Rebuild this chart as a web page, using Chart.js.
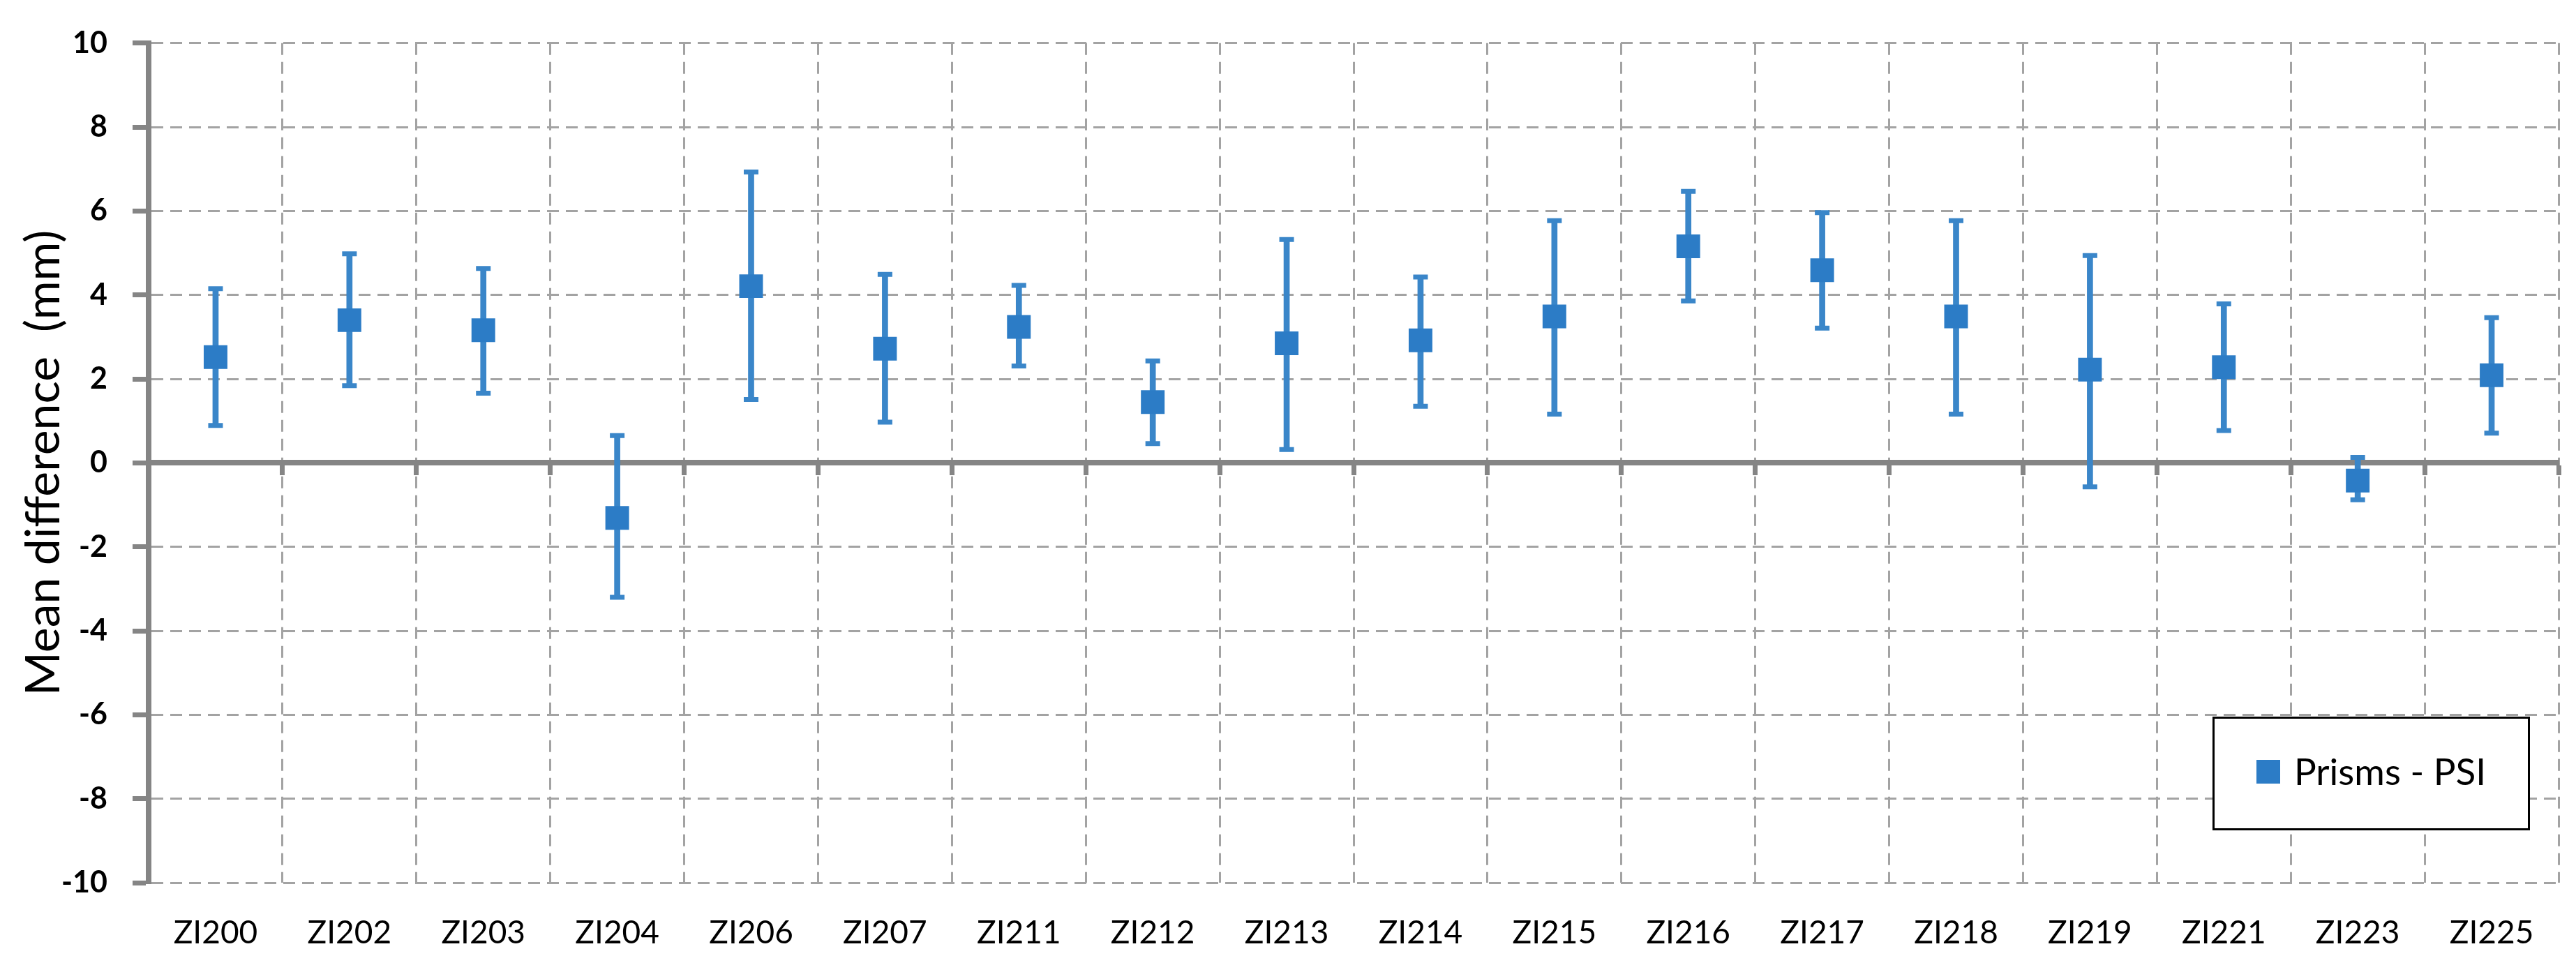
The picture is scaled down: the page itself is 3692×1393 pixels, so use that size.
<!DOCTYPE html>
<html>
<head>
<meta charset="utf-8">
<script src="https://cdn.jsdelivr.net/npm/chart.js@4.4.1/dist/chart.umd.min.js"></script>
<style>
  html, body { margin: 0; padding: 0; background: #ffffff; }
  #wrap { width: 3692px; height: 1393px; }
</style>
</head>
<body>
<div id="wrap"><canvas id="c" width="3692" height="1393"></canvas></div>
<script>
// ---- data ----
const categories = ['ZI200','ZI202','ZI203','ZI204','ZI206','ZI207','ZI211','ZI212','ZI213',
                    'ZI214','ZI215','ZI216','ZI217','ZI218','ZI219','ZI221','ZI223','ZI225'];
const meanValues = [2.52, 3.40, 3.16, -1.31, 4.21, 2.72, 3.24, 1.45, 2.85,
                    2.92, 3.49, 5.16, 4.59, 3.49, 2.22, 2.28, -0.42, 2.09];
const upperValues = [4.15, 4.98, 4.63, 0.65, 6.93, 4.49, 4.23, 2.43, 5.32,
                     4.43, 5.77, 6.47, 5.96, 5.77, 4.94, 3.79, 0.13, 3.46];
const lowerValues = [0.89, 1.84, 1.66, -3.20, 1.51, 0.97, 2.31, 0.46, 0.32,
                     1.35, 1.16, 3.86, 3.21, 1.16, -0.57, 0.77, -0.88, 0.71];
const yTickMin = -10;
const yTickMax = 10;
const yTickStep = 2;
const seriesLabel = 'Prisms - PSI';
const yTitle = 'Mean difference  (mm)';

// ---- styles ----
const markerColor = '#2C7CC6';
const barColor = '#3A86C9';
const gridColor = '#A3A3A3';
const axisColor = '#858585';
const dashPattern = [17, 10];

const legendBox = {
  id: 'legendBox',
  afterDraw(chart) {
    const ctx = chart.ctx;
    const label = chart.data.datasets[0].label;
    ctx.save();
    ctx.fillStyle = '#ffffff';
    ctx.fillRect(3172, 1028, 452, 160);
    ctx.lineWidth = 3;
    ctx.strokeStyle = '#000000';
    ctx.strokeRect(3172.5, 1028.5, 452, 160);
    ctx.fillStyle = markerColor;
    ctx.fillRect(3234, 1089, 34, 34);
    ctx.fillStyle = '#000000';
    ctx.font = '53px Lato';
    ctx.textBaseline = 'alphabetic';
    ctx.textAlign = 'left';
    ctx.fillText(label, 3288, 1125);
    ctx.restore();
  }
};

const ranges = lowerValues.map((l, i) => [l, upperValues[i]]);

new Chart(document.getElementById('c'), {
  type: 'bar',
  data: {
    labels: categories,
    datasets: [
      {
        type: 'line', label: seriesLabel, data: meanValues, showLine: false,
        pointStyle: 'rect', pointRadius: 24, pointHoverRadius: 24,
        pointBackgroundColor: markerColor, pointBorderColor: markerColor, pointBorderWidth: 0,
        order: 0
      },
      {
        type: 'line', label: 'upper', data: upperValues, showLine: false,
        pointStyle: 'line', pointRadius: 10.5, pointHoverRadius: 10.5,
        pointBorderColor: barColor, pointBorderWidth: 7, order: 1
      },
      {
        type: 'line', label: 'lower', data: lowerValues, showLine: false,
        pointStyle: 'line', pointRadius: 10.5, pointHoverRadius: 10.5,
        pointBorderColor: barColor, pointBorderWidth: 7, order: 1
      },
      {
        type: 'bar', label: 'range', data: ranges, barThickness: 8,
        backgroundColor: barColor, borderWidth: 0, order: 2
      }
    ]
  },
  options: {
    responsive: false,
    animation: false,
    devicePixelRatio: 1,
    layout: { padding: { top: 47, right: 25, left: 0, bottom: 0 } },
    plugins: { legend: { display: false }, tooltip: { enabled: false } },
    scales: {
      x: {
        type: 'category',
        position: 'bottom',
        offset: true,
        grid: { offset: true, color: gridColor, lineWidth: 3, drawTicks: false, borderDash: dashPattern },
        border: { display: false, dash: dashPattern },
        ticks: { color: '#000000', font: { family: 'Lato', size: 46 }, padding: 45, maxRotation: 0, autoSkip: false },
        afterFit(s) { s.height = 128; }
      },
      x2: {
        type: 'category',
        position: { y: 0 },
        offset: true,
        grid: { offset: true, drawOnChartArea: false, drawTicks: true, tickLength: 14,
                tickWidth: 7, tickColor: axisColor, tickBorderDash: [], color: axisColor },
        border: { display: true, color: axisColor, width: 8 },
        ticks: { display: false },
        afterFit(s) { s.height = 0; }
      },
      y: {
        type: 'linear',
        position: 'left',
        min: yTickMin, max: yTickMax,
        ticks: { stepSize: yTickStep, color: '#000000', font: { family: 'Lato', size: 43, weight: 'bold' }, padding: 36 },
        grid: { color: gridColor, lineWidth: 3, drawTicks: true, tickLength: 23, tickWidth: 7,
                tickColor: axisColor, tickBorderDash: [], borderDash: dashPattern },
        border: { display: true, color: axisColor, width: 8, dash: dashPattern },
        title: { display: true, text: yTitle, color: '#000000',
                 font: { family: 'Lato', size: 68 }, padding: { top: 22, bottom: 0 } },
        afterFit(s) { s.width = 213; }
      }
    }
  },
  plugins: [legendBox]
});
</script>
</body>
</html>
